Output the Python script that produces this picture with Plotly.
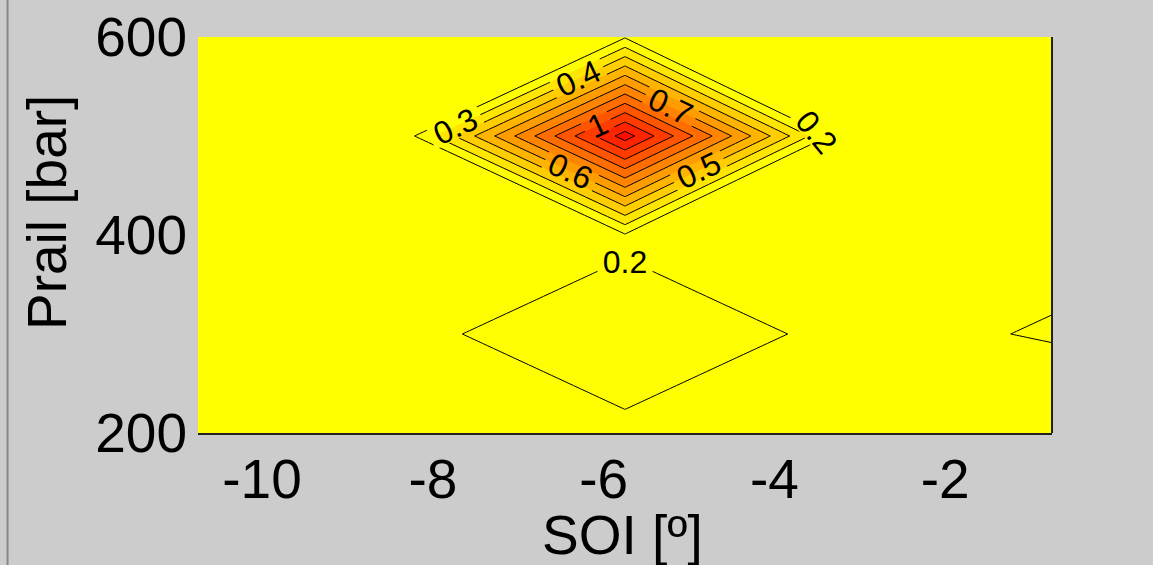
import plotly.graph_objects as go

# grid of the measured surface
soi = [-10.75, -8.25, -5.75, -3.25, -0.75]
prail = [200, 300, 400, 500, 600]
# values z[row = prail][col = soi]
z_200 = [0.17, 0.185, 0.19, 0.185, 0.175]
z_300 = [0.17, 0.19, 0.232, 0.19, 0.2024]
z_400 = [0.175, 0.185, 0.19, 0.17, 0.19]
z_500 = [0.18, 0.185, 1.25, 0.148, 0.16]
z_600 = [0.175, 0.18, 0.19, 0.17, 0.16]
z = [z_200, z_300, z_400, z_500, z_600]

x_ticks = [-10, -8, -6, -4, -2]
y_ticks = [200, 400, 600]
x_title = "SOI [º]"
y_title = "Prail [bar]"

font = "Liberation Sans, Arial, sans-serif"

fig = go.Figure(
    go.Contour(
        x=soi,
        y=prail,
        z=z,
        contours=dict(
            start=0.2, end=1.2, size=0.1, coloring="fill",
            showlabels=True,
            labelfont=dict(size=32, color="black", family=font),
        ),
        colorscale=[[0, "rgb(255,255,0)"], [0.0873, "rgb(255,255,0)"], [1, "rgb(255,12,0)"]],
        line=dict(color="black", width=1, smoothing=0),
        showscale=False,
        hoverinfo="skip",
    )
)

fig.update_layout(
    width=1153,
    height=565,
    paper_bgcolor="#cccccc",
    plot_bgcolor="#ffff00",
    margin=dict(l=198, r=101, t=37, b=132, autoexpand=False),
    font=dict(family=font, size=55, color="black"),
    xaxis=dict(
        range=[-10.75, -0.75],
        tickvals=x_ticks,
        ticktext=[str(v) for v in x_ticks],
        showgrid=False, zeroline=False,
        showline=True, linecolor="#222222", linewidth=2,
        ticks="", ticklen=0, automargin=False,
        ticklabelstandoff=-3,
        tickfont=dict(size=55),
    ),
    yaxis=dict(
        range=[200, 600],
        tickvals=y_ticks,
        ticktext=[str(v) for v in y_ticks],
        showgrid=False, zeroline=False,
        showline=False,
        ticks="", ticklen=0, automargin=False,
        ticklabelstandoff=10,
        tickfont=dict(size=55),
    ),
    annotations=[
        dict(text=x_title, xref="paper", yref="paper", x=0.4965, y=-0.258,
             xanchor="center", yanchor="middle", showarrow=False, font=dict(size=55)),
        dict(text=y_title, xref="paper", yref="paper", x=-0.1768, y=0.5556,
             xanchor="center", yanchor="middle", textangle=-90, showarrow=False,
             font=dict(size=55)),
    ],
    shapes=[
        dict(type="line", xref="paper", yref="paper", x0=1, x1=1, y0=0, y1=1,
             line=dict(color="#222222", width=2)),
        dict(type="line", xref="paper", yref="paper", x0=-0.223, x1=-0.223, y0=-0.35, y1=1.1,
             line=dict(color="#888888", width=2)),
    ],
)

fig.write_html(
    "out.html",
    config={"displayModeBar": False},
    post_script="document.body.style.margin='0';document.body.style.background='#cccccc';",
)
